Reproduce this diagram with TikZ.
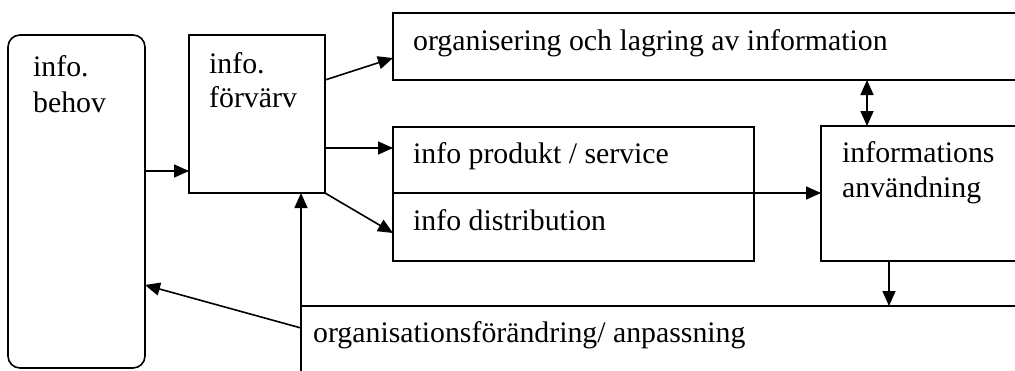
\documentclass[tikz,border=0pt]{standalone}
\usepackage{fontspec}
\setmainfont{Liberation Serif}
\usetikzlibrary{arrows.meta,calc}
\begin{document}
\begin{tikzpicture}[x=1pt,y=-1pt,
  box/.style={draw, line width=1.6pt, anchor=north west, inner sep=0pt, outer sep=0pt},
  lbl/.style={anchor=base west, align=left, inner sep=0pt, font=\fontsize{29.8}{36}\selectfont},
  arr/.style={line width=1.6pt, -{Triangle[length=15pt,width=13pt]}},
  darr/.style={line width=1.6pt, {Triangle[length=15pt,width=13pt]}-{Triangle[length=15pt,width=13pt]}}]
\useasboundingbox (0,0) rectangle (1015,370);
\clip (0,0) rectangle (1015,370);
% boxes
\node[box, minimum width=137pt, minimum height=333pt, rounded corners=12pt] (behov) at (8,35) {};
\node[box, minimum width=136pt, minimum height=158pt] (forvarv) at (189,35) {};
\node[box, minimum width=640pt, minimum height=67pt] (org) at (393,13) {};
\node[box, minimum width=361pt, minimum height=66pt] (prod) at (393,127) {};
\node[box, minimum width=361pt, minimum height=68pt] (dist) at (393,193) {};
\node[box, minimum width=210pt, minimum height=135pt] (anv) at (821,126) {};
\node[box, minimum width=730pt, minimum height=100pt] (bot) at (301,306) {};
% texts (base anchor = last line)
\node[lbl] (tbehov) at (33,112) {info.\\behov};
\node[lbl, font=\fontsize{29.8}{34}\selectfont] (tforvarv) at (209,107) {info.\\förvärv};
\node[lbl] (torg) at (413,50) {organisering och lagring av information};
\node[lbl] (tprod) at (413,163) {info produkt / service};
\node[lbl] (tdist) at (413,230) {info distribution};
\node[lbl, font=\fontsize{29.8}{35}\selectfont] (tanv) at (842,197) {informations\\användning};
\node[lbl] (tbot) at (313,342) {organisationsförändring/ anpassning};
% connectors
\coordinate (up) at (301,370);
\draw[arr] ($(behov.north east)+(0,136)$) -- ($(forvarv.north west)+(0,136)$);
\draw[arr] ($(forvarv.north east)+(0,45)$) -- ($(org.north west)+(0,45)$);
\draw[arr] ($(forvarv.north east)+(0,113)$) -- ($(prod.north west)+(0,21)$);
\draw[arr] (forvarv.south east) -- ($(dist.north west)+(0,40)$);
\draw[arr] (prod.south west) -- (prod.south west -| anv.west);
\draw[darr] ($(anv.north west)+(46,0)$) -- ($(org.south west)+(474,0)$);
\draw[arr] ($(anv.south west)+(68,0)$) -- ($(bot.north west)+(588,0)$);
\draw[arr] (up) -- (up |- forvarv.south);
\draw[arr] ($(bot.north west)+(0,22)$) -- ($(behov.north east)+(0,250)$);
\end{tikzpicture}
\end{document}
